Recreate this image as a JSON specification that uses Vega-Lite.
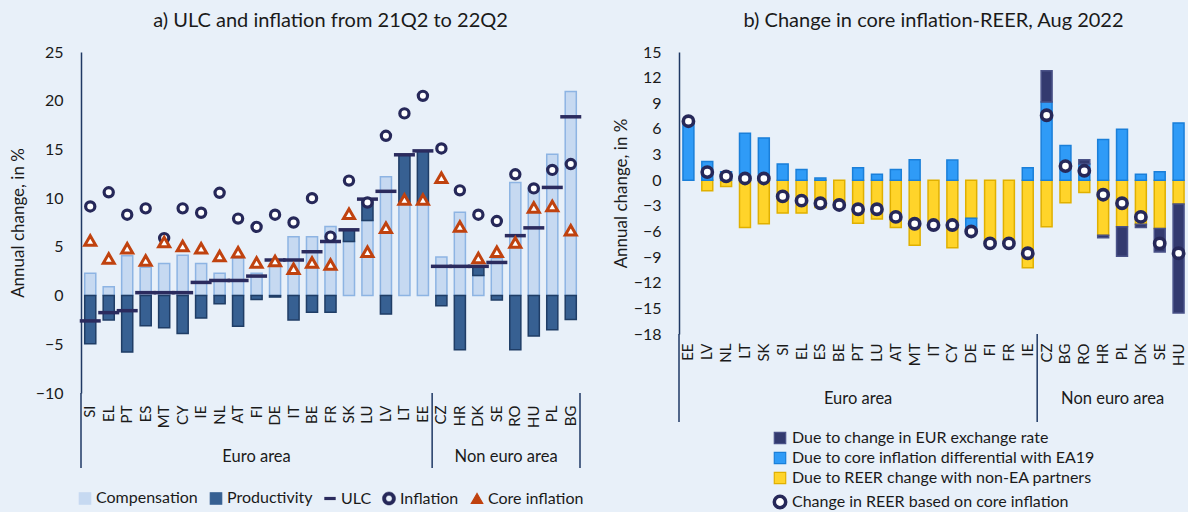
{
  "$schema": "https://vega.github.io/schema/vega-lite/v6.json",
  "background": "#e8f0f9",
  "padding": {"left": 9, "top": 11, "right": 0, "bottom": 0},
  "spacing": 28,
  "config": {
    "font": "Lato",
    "view": {"stroke": null},
    "axis": {"grid": false, "ticks": false, "labelOverlap": false, "labelSeparation": -30, "labelColor": "#1a1a1a", "titleColor": "#1a1a1a", "labelFontSize": 16, "titleFontSize": 17, "titleFontWeight": "normal", "domainColor": "#1f3864", "domainWidth": 1.5},
    "title": {"fontSize": 20, "fontWeight": "normal", "color": "#1a1a1a", "frame": "group", "offset": 13},
    "legend": {"labelFontSize": 16, "labelColor": "#1a1a1a", "layout": {"bottom": {"anchor": "middle"}}},
    "text": {"font": "Lato"}
  },
  "resolve": {"scale": {"color": "independent", "stroke": "independent", "x": "independent", "y": "independent"}, "legend": {"color": "independent"}},
  "hconcat": [
    {
      "title": {"text": "a) ULC and inflation from 21Q2 to 22Q2"},
      "width": 499,
      "height": 341,
      "data": {"values": [
        {"c": "SI", "Compensation": 2.3, "Productivity": -4.95, "ULC": -2.6, "Inflation": 9.15, "Core inflation": 5.65},
        {"c": "EL", "Compensation": 0.9, "Productivity": -2.5, "ULC": -1.75, "Inflation": 10.6, "Core inflation": 3.8},
        {"c": "PT", "Compensation": 4.1, "Productivity": -5.8, "ULC": -1.55, "Inflation": 8.3, "Core inflation": 4.85},
        {"c": "ES", "Compensation": 2.9, "Productivity": -3.1, "ULC": 0.3, "Inflation": 8.95, "Core inflation": 3.6},
        {"c": "MT", "Compensation": 3.3, "Productivity": -3.3, "ULC": 0.3, "Inflation": 5.9, "Core inflation": 5.5},
        {"c": "CY", "Compensation": 4.15, "Productivity": -3.9, "ULC": 0.3, "Inflation": 8.95, "Core inflation": 5.1},
        {"c": "IE", "Compensation": 3.3, "Productivity": -2.3, "ULC": 1.35, "Inflation": 8.5, "Core inflation": 4.85},
        {"c": "NL", "Compensation": 2.3, "Productivity": -0.85, "ULC": 1.55, "Inflation": 10.55, "Core inflation": 4.05},
        {"c": "AT", "Compensation": 3.85, "Productivity": -3.15, "ULC": 1.55, "Inflation": 7.9, "Core inflation": 4.45},
        {"c": "FI", "Compensation": 2.3, "Productivity": -0.4, "ULC": 2.0, "Inflation": 7.05, "Core inflation": 3.4},
        {"c": "DE", "Compensation": 3.3, "Productivity": -0.15, "ULC": 3.65, "Inflation": 8.3, "Core inflation": 3.55},
        {"c": "IT", "Compensation": 6.05, "Productivity": -2.5, "ULC": 3.65, "Inflation": 7.5, "Core inflation": 2.75},
        {"c": "BE", "Compensation": 6.05, "Productivity": -1.7, "ULC": 4.5, "Inflation": 10.0, "Core inflation": 3.4},
        {"c": "FR", "Compensation": 7.1, "Productivity": -1.7, "ULC": 5.55, "Inflation": 6.05, "Core inflation": 3.2},
        {"c": "SK", "Compensation": 5.55, "Productivity": 1.2, "ULC": 6.75, "Inflation": 11.8, "Core inflation": 8.4},
        {"c": "LU", "Compensation": 7.7, "Productivity": 2.2, "ULC": 9.9, "Inflation": 9.55, "Core inflation": 4.5},
        {"c": "LV", "Compensation": 12.2, "Productivity": -1.9, "ULC": 10.7, "Inflation": 16.4, "Core inflation": 6.95},
        {"c": "LT", "Compensation": 9.6, "Productivity": 4.85, "ULC": 14.45, "Inflation": 18.7, "Core inflation": 9.85},
        {"c": "EE", "Compensation": 9.6, "Productivity": 5.25, "ULC": 14.85, "Inflation": 20.5, "Core inflation": 9.85},
        {"c": "CZ", "Compensation": 3.95, "Productivity": -1.05, "ULC": 3.0, "Inflation": 15.1, "Core inflation": 12.1},
        {"c": "HR", "Compensation": 8.55, "Productivity": -5.55, "ULC": 3.0, "Inflation": 10.8, "Core inflation": 7.1},
        {"c": "DK", "Compensation": 2.05, "Productivity": 0.95, "ULC": 3.0, "Inflation": 8.3, "Core inflation": 3.85},
        {"c": "SE", "Compensation": 3.8, "Productivity": -0.45, "ULC": 3.4, "Inflation": 7.65, "Core inflation": 4.5},
        {"c": "RO", "Compensation": 11.6, "Productivity": -5.55, "ULC": 6.15, "Inflation": 12.45, "Core inflation": 5.45},
        {"c": "HU", "Compensation": 11.1, "Productivity": -4.15, "ULC": 6.95, "Inflation": 11.0, "Core inflation": 9.05},
        {"c": "PL", "Compensation": 14.5, "Productivity": -3.5, "ULC": 11.1, "Inflation": 12.9, "Core inflation": 9.2},
        {"c": "BG", "Compensation": 20.95, "Productivity": -2.45, "ULC": 18.35, "Inflation": 13.5, "Core inflation": 6.7}
      ]},
      "encoding": {
        "x": {"field": "c", "type": "nominal", "title": null,
          "scale": {"domain": ["SI","EL","PT","ES","MT","CY","IE","NL","AT","FI","DE","IT","BE","FR","SK","LU","LV","LT","EE","CZ","HR","DK","SE","RO","HU","PL","BG"], "paddingInner": 0, "paddingOuter": 0},
          "axis": {"labelAngle": -90, "labelPadding": 12, "domain": false, "ticks": false, "labelFontSize": 15}}
      },
      "layer": [
        {
          "transform": [{"fold": ["Compensation", "Productivity"], "as": ["series", "value"]}, {"filter": "isValid(datum.value)"}],
          "mark": {"type": "bar", "width": {"band": 0.6}, "strokeWidth": 1.5},
          "encoding": {
            "y": {"field": "value", "type": "quantitative", "stack": "zero",
              "scale": {"domain": [-10, 25], "nice": false, "zero": false},
              "axis": {"values": [-10, -5, 0, 5, 10, 15, 20, 25], "labelOverlap": false, "title": "Annual change, in %", "labelPadding": 18, "titlePadding": 8}},
            "color": {"field": "series", "type": "nominal",
              "scale": {"domain": ["Compensation", "Productivity", "ULC", "Inflation", "Core inflation"], "range": ["#c6d9f1", "#376092", "#2b2b5e", "#262859", "#c0420f"]},
              "legend": {"orient": "bottom", "direction": "horizontal", "title": null, "offset": 62, "columnPadding": 9, "labelOffset": 3, "symbolSize": 130,
                "encoding": {"symbols": {
                  "shape": {"value": {"expr": "datum.value === 'ULC' ? 'M-1,-0.28H1V0.28H-1Z' : datum.value === 'Inflation' ? 'M-1.15,0A1.15,1.15 0 1,0 1.15,0A1.15,1.15 0 1,0 -1.15,0Z M-0.55,0A0.55,0.55 0 1,1 0.55,0A0.55,0.55 0 1,1 -0.55,0Z' : datum.value === 'Core inflation' ? 'triangle-up' : 'square'"}},
                  "stroke": {"value": {"expr": "datum.value === 'Compensation' ? '#8db4e3' : datum.value === 'Productivity' ? '#1f3d66' : datum.value === 'ULC' ? '#2b2b5e' : datum.value === 'Inflation' ? '#262859' : '#c0420f'"}},
                  "strokeWidth": {"value": {"expr": "datum.value === 'Inflation' ? 0.5 : datum.value === 'ULC' ? 0 : 1.2"}},
                  "opacity": {"value": 1}
                }}}},
            "stroke": {"field": "series", "type": "nominal", "scale": {"domain": ["Compensation", "Productivity"], "range": ["#8db4e3", "#1f3d66"]}, "legend": null},
            "order": {"field": "series", "sort": "ascending"}
          }
        },
        {
          "mark": {"type": "rule", "color": "#1f3864", "strokeWidth": 1.5},
          "encoding": {"y": {"datum": 0}}
        },
        {
          "transform": [{"fold": ["ULC"], "as": ["series", "value"]}],
          "mark": {"type": "tick", "thickness": 3.5, "size": 21, "opacity": 1},
          "encoding": {
            "y": {"field": "value", "type": "quantitative"},
            "color": {"field": "series", "type": "nominal"}
          }
        },
        {
          "transform": [{"fold": ["Inflation"], "as": ["series", "value"]}],
          "mark": {"type": "point", "shape": "circle", "filled": false, "fill": "#ffffff", "size": 85, "strokeWidth": 3.2, "opacity": 1},
          "encoding": {
            "y": {"field": "value", "type": "quantitative"},
            "color": {"field": "series", "type": "nominal"},
            "fill": {"value": "#ffffff"},
            "stroke": {"value": "#262859"}
          }
        },
        {
          "transform": [{"fold": ["Core inflation"], "as": ["series", "value"]}],
          "mark": {"type": "point", "shape": "triangle-up", "filled": false, "fill": "#ffffff", "size": 120, "strokeWidth": 3, "opacity": 1},
          "encoding": {
            "y": {"field": "value", "type": "quantitative"},
            "color": {"field": "series", "type": "nominal"},
            "fill": {"value": "#ffffff"}
          }
        },
        {
          "data": {"values": [{"c": "SI"}, {"c": "CZ"}]},
          "mark": {"type": "rule", "color": "#1f3864", "strokeWidth": 1.5},
          "encoding": {
            "x": {"field": "c", "type": "nominal", "bandPosition": 0, "title": null},
            "y": {"datum": -10},
            "y2": {"datum": -17.7}
          }
        },
        {
          "data": {"values": [{"c": "BG"}]},
          "mark": {"type": "rule", "color": "#1f3864", "strokeWidth": 1.5},
          "encoding": {
            "x": {"field": "c", "type": "nominal", "bandPosition": 1, "title": null},
            "y": {"datum": -10},
            "y2": {"datum": -17.7}
          }
        },
        {
          "data": {"values": [{"c": "FI", "g": "Euro area"}]},
          "mark": {"type": "text", "fontSize": 16.5, "color": "#1a1a1a", "baseline": "middle"},
          "encoding": {
            "x": {"field": "c", "type": "nominal", "bandPosition": 0.5, "title": null},
            "y": {"datum": -16.6},
            "text": {"field": "g"}
          }
        },
        {
          "data": {"values": [{"c": "RO", "g": "Non euro area"}]},
          "mark": {"type": "text", "fontSize": 16.5, "color": "#1a1a1a", "baseline": "middle"},
          "encoding": {
            "x": {"field": "c", "type": "nominal", "bandPosition": 0, "title": null},
            "y": {"datum": -16.6},
            "text": {"field": "g"}
          }
        }
      ]
    },
    {
      "title": {"text": "b) Change in core inflation-REER, Aug 2022"},
      "width": 509,
      "height": 282,
      "data": {"values": [
        {"c": "EE", "Due to change in EUR exchange rate": null, "Due to core inflation differential with EA19": 6.8, "Due to REER change with non-EA partners": null, "Change in REER based on core inflation": 6.9},
        {"c": "LV", "Due to change in EUR exchange rate": null, "Due to core inflation differential with EA19": 2.2, "Due to REER change with non-EA partners": -1.25, "Change in REER based on core inflation": 0.95},
        {"c": "NL", "Due to change in EUR exchange rate": null, "Due to core inflation differential with EA19": 1.0, "Due to REER change with non-EA partners": -0.75, "Change in REER based on core inflation": 0.45},
        {"c": "LT", "Due to change in EUR exchange rate": null, "Due to core inflation differential with EA19": 5.5, "Due to REER change with non-EA partners": -5.55, "Change in REER based on core inflation": 0.2},
        {"c": "SK", "Due to change in EUR exchange rate": null, "Due to core inflation differential with EA19": 4.95, "Due to REER change with non-EA partners": -5.1, "Change in REER based on core inflation": 0.2},
        {"c": "SI", "Due to change in EUR exchange rate": null, "Due to core inflation differential with EA19": 1.9, "Due to REER change with non-EA partners": -3.85, "Change in REER based on core inflation": -1.9},
        {"c": "EL", "Due to change in EUR exchange rate": null, "Due to core inflation differential with EA19": 1.25, "Due to REER change with non-EA partners": -3.85, "Change in REER based on core inflation": -2.4},
        {"c": "ES", "Due to change in EUR exchange rate": null, "Due to core inflation differential with EA19": 0.25, "Due to REER change with non-EA partners": -3.2, "Change in REER based on core inflation": -2.7},
        {"c": "BE", "Due to change in EUR exchange rate": null, "Due to core inflation differential with EA19": null, "Due to REER change with non-EA partners": -2.95, "Change in REER based on core inflation": -2.9},
        {"c": "PT", "Due to change in EUR exchange rate": null, "Due to core inflation differential with EA19": 1.45, "Due to REER change with non-EA partners": -5.05, "Change in REER based on core inflation": -3.4},
        {"c": "LU", "Due to change in EUR exchange rate": null, "Due to core inflation differential with EA19": 0.7, "Due to REER change with non-EA partners": -4.55, "Change in REER based on core inflation": -3.4},
        {"c": "AT", "Due to change in EUR exchange rate": null, "Due to core inflation differential with EA19": 1.25, "Due to REER change with non-EA partners": -5.55, "Change in REER based on core inflation": -4.3},
        {"c": "MT", "Due to change in EUR exchange rate": null, "Due to core inflation differential with EA19": 2.4, "Due to REER change with non-EA partners": -7.6, "Change in REER based on core inflation": -5.1},
        {"c": "IT", "Due to change in EUR exchange rate": null, "Due to core inflation differential with EA19": null, "Due to REER change with non-EA partners": -5.2, "Change in REER based on core inflation": -5.25},
        {"c": "CY", "Due to change in EUR exchange rate": null, "Due to core inflation differential with EA19": 2.35, "Due to REER change with non-EA partners": -7.9, "Change in REER based on core inflation": -5.25},
        {"c": "DE", "Due to change in EUR exchange rate": null, "Due to core inflation differential with EA19": -1.2, "Due to REER change with non-EA partners": -4.45, "Change in REER based on core inflation": -6.0},
        {"c": "FI", "Due to change in EUR exchange rate": null, "Due to core inflation differential with EA19": null, "Due to REER change with non-EA partners": -7.1, "Change in REER based on core inflation": -7.4},
        {"c": "FR", "Due to change in EUR exchange rate": null, "Due to core inflation differential with EA19": null, "Due to REER change with non-EA partners": -7.1, "Change in REER based on core inflation": -7.4},
        {"c": "IE", "Due to change in EUR exchange rate": null, "Due to core inflation differential with EA19": 1.45, "Due to REER change with non-EA partners": -10.25, "Change in REER based on core inflation": -8.55},
        {"c": "CZ", "Due to change in EUR exchange rate": 3.65, "Due to core inflation differential with EA19": 9.15, "Due to REER change with non-EA partners": -5.45, "Change in REER based on core inflation": 7.6},
        {"c": "BG", "Due to change in EUR exchange rate": null, "Due to core inflation differential with EA19": 4.05, "Due to REER change with non-EA partners": -2.65, "Change in REER based on core inflation": 1.65},
        {"c": "RO", "Due to change in EUR exchange rate": 0.5, "Due to core inflation differential with EA19": 1.9, "Due to REER change with non-EA partners": -1.45, "Change in REER based on core inflation": 1.1},
        {"c": "HR", "Due to change in EUR exchange rate": -0.3, "Due to core inflation differential with EA19": 4.75, "Due to REER change with non-EA partners": -6.45, "Change in REER based on core inflation": -1.7},
        {"c": "PL", "Due to change in EUR exchange rate": -3.45, "Due to core inflation differential with EA19": 5.95, "Due to REER change with non-EA partners": -5.45, "Change in REER based on core inflation": -2.7},
        {"c": "DK", "Due to change in EUR exchange rate": -0.4, "Due to core inflation differential with EA19": 0.7, "Due to REER change with non-EA partners": -5.15, "Change in REER based on core inflation": -4.3},
        {"c": "SE", "Due to change in EUR exchange rate": -2.75, "Due to core inflation differential with EA19": 1.0, "Due to REER change with non-EA partners": -5.65, "Change in REER based on core inflation": -7.4},
        {"c": "HU", "Due to change in EUR exchange rate": -12.75, "Due to core inflation differential with EA19": 6.7, "Due to REER change with non-EA partners": -2.8, "Change in REER based on core inflation": -8.55}
      ]},
      "encoding": {
        "x": {"field": "c", "type": "nominal", "title": null,
          "scale": {"domain": ["EE","LV","NL","LT","SK","SI","EL","ES","BE","PT","LU","AT","MT","IT","CY","DE","FI","FR","IE","CZ","BG","RO","HR","PL","DK","SE","HU"], "paddingInner": 0, "paddingOuter": 0},
          "axis": {"labelAngle": -90, "labelPadding": 9, "domain": false, "ticks": false, "labelFontSize": 15}},
        "y": {"type": "quantitative",
          "scale": {"domain": [-18, 15], "nice": false, "zero": false},
          "axis": {"values": [-18, -15, -12, -9, -6, -3, 0, 3, 6, 9, 12, 15], "labelOverlap": false, "labelSeparation": -30, "title": "Annual change, in %", "labelPadding": 18, "titlePadding": 3}}
      },
      "layer": [
        {
          "transform": [
            {"fold": ["Due to REER change with non-EA partners", "Due to core inflation differential with EA19", "Due to change in EUR exchange rate"], "as": ["series", "value"]},
            {"filter": "isValid(datum.value) && datum.value !== 0"},
            {"calculate": "indexof(['Due to REER change with non-EA partners', 'Due to core inflation differential with EA19', 'Due to change in EUR exchange rate'], datum.series)", "as": "ord"}
          ],
          "mark": {"type": "bar", "width": {"band": 0.58}, "strokeWidth": 1.5},
          "encoding": {
            "y": {"field": "value", "type": "quantitative", "stack": "zero",
              "scale": {"domain": [-18, 15], "nice": false, "zero": false},
              "axis": {"values": [-18, -15, -12, -9, -6, -3, 0, 3, 6, 9, 12, 15], "labelOverlap": false, "labelSeparation": -30, "title": "Annual change, in %", "labelPadding": 18, "titlePadding": 3}},
            "color": {"field": "series", "type": "nominal",
              "scale": {"domain": ["Due to change in EUR exchange rate", "Due to core inflation differential with EA19", "Due to REER change with non-EA partners", "Change in REER based on core inflation"], "range": ["#333a6f", "#2f9bf7", "#ffd42a", "#ffffff"]},
              "legend": {"orient": "bottom", "direction": "vertical", "title": null, "offset": 64, "rowPadding": 2, "labelOffset": 4, "symbolSize": 130, "labelLimit": 400,
                "encoding": {"symbols": {
                  "shape": {"value": {"expr": "datum.value === 'Change in REER based on core inflation' ? 'circle' : 'square'"}},
                  "stroke": {"value": {"expr": "datum.value === 'Due to change in EUR exchange rate' ? '#4a5288' : datum.value === 'Due to core inflation differential with EA19' ? '#1a7fd9' : datum.value === 'Due to REER change with non-EA partners' ? '#e0b000' : '#262859'"}},
                  "strokeWidth": {"value": {"expr": "datum.value === 'Change in REER based on core inflation' ? 3.5 : 1.2"}},
                  "opacity": {"value": 1}
                }}}},
            "stroke": {"field": "series", "type": "nominal", "scale": {"domain": ["Due to change in EUR exchange rate", "Due to core inflation differential with EA19", "Due to REER change with non-EA partners"], "range": ["#4a5288", "#1a7fd9", "#e0b000"]}, "legend": null},
            "order": {"field": "ord", "type": "quantitative", "sort": "ascending"}
          }
        },
        {
          "mark": {"type": "rule", "color": "#1f3864", "strokeWidth": 1.8},
          "encoding": {"y": {"datum": 0}}
        },
        {
          "transform": [{"fold": ["Change in REER based on core inflation"], "as": ["series", "value"]}],
          "mark": {"type": "point", "shape": "circle", "filled": false, "fill": "#ffffff", "size": 105, "strokeWidth": 3.6, "opacity": 1},
          "encoding": {
            "y": {"field": "value", "type": "quantitative"},
            "color": {"field": "series", "type": "nominal"},
            "fill": {"value": "#ffffff"},
            "stroke": {"value": "#262859"}
          }
        },
        {
          "data": {"values": [{"c": "EE"}, {"c": "CZ"}]},
          "mark": {"type": "rule", "color": "#1f3864", "strokeWidth": 1.5},
          "encoding": {
            "x": {"field": "c", "type": "nominal", "bandPosition": 0, "title": null},
            "y": {"datum": -18},
            "y2": {"datum": -28.3}
          }
        },
        {
          "data": {"values": [{"c": "PT", "g": "Euro area"}]},
          "mark": {"type": "text", "fontSize": 16.5, "color": "#1a1a1a", "baseline": "middle"},
          "encoding": {
            "x": {"field": "c", "type": "nominal", "bandPosition": 0.5, "title": null},
            "y": {"datum": -25.6},
            "text": {"field": "g"}
          }
        },
        {
          "data": {"values": [{"c": "PL", "g": "Non euro area"}]},
          "mark": {"type": "text", "fontSize": 16.5, "color": "#1a1a1a", "baseline": "middle"},
          "encoding": {
            "x": {"field": "c", "type": "nominal", "bandPosition": 0, "title": null},
            "y": {"datum": -25.6},
            "text": {"field": "g"}
          }
        }
      ]
    }
  ]
}
